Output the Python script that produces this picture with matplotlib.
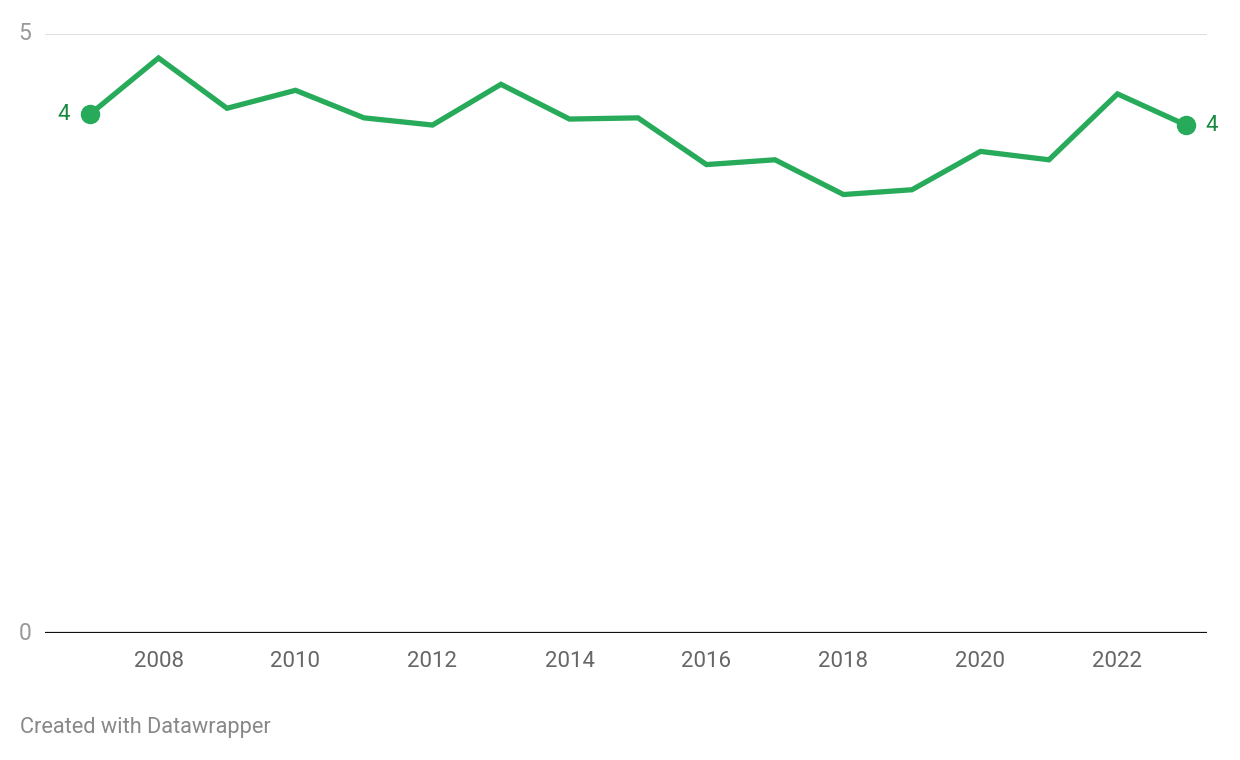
import matplotlib
matplotlib.use("Agg")
import matplotlib.pyplot as plt

plt.rcParams["font.family"] = ["Roboto", "DejaVu Sans"]

years = [2007, 2008, 2009, 2010, 2011, 2012, 2013, 2014, 2015,
         2016, 2017, 2018, 2019, 2020, 2021, 2022, 2023]
values = [4.33, 4.80, 4.38, 4.53, 4.30, 4.24, 4.58, 4.29, 4.30,
          3.91, 3.95, 3.66, 3.70, 4.02, 3.95, 4.50, 4.24]
xticks = [2008, 2010, 2012, 2014, 2016, 2018, 2020, 2022]
yticks = [0, 5]

LINE = "#27ab5b"
LABEL = "#15893f"

fig = plt.figure(figsize=(12.4, 7.6), dpi=100)
ax = fig.add_axes([45 / 1240, 127 / 760, 1162 / 1240, 599 / 760])

ax.axhline(5, color="#e0e0e0", lw=1.5, zorder=1)
ax.axhline(0, color="#111111", lw=1.6, zorder=3)
ax.plot(years, values, color=LINE, lw=3.8, solid_joinstyle="miter", zorder=4)
ax.plot([years[0], years[-1]], [values[0], values[-1]], "o", color=LINE,
        ms=13, zorder=5)

ax.text(years[0] - 0.29, values[0], f"{values[0]:.0f}", color=LABEL,
        fontsize=16, ha="right", va="center")
ax.text(years[-1] + 0.29, values[-1], f"{values[-1]:.0f}", color=LABEL,
        fontsize=16, ha="left", va="center")

ax.set_xlim(2006.343, 2023.307)
ax.set_ylim(0, 5)
ax.set_xticks(xticks)
ax.set_xticklabels([str(t) for t in xticks], color="#666666", fontsize=16)
ax.set_yticks(yticks)
ax.set_yticklabels([str(t) for t in yticks], color="#999999", fontsize=16.5)
ax.tick_params(axis="x", length=0, pad=13)
ax.tick_params(axis="y", length=0, pad=10)
for lbl in ax.get_yticklabels():
    lbl.set_verticalalignment("center")
for s in ax.spines.values():
    s.set_visible(False)

fig.text(20 / 1240, 1 - 727 / 760, "Created with Datawrapper", color="#888888",
         fontsize=15.7, ha="left", va="center")

fig.savefig("out.png", dpi=100)
